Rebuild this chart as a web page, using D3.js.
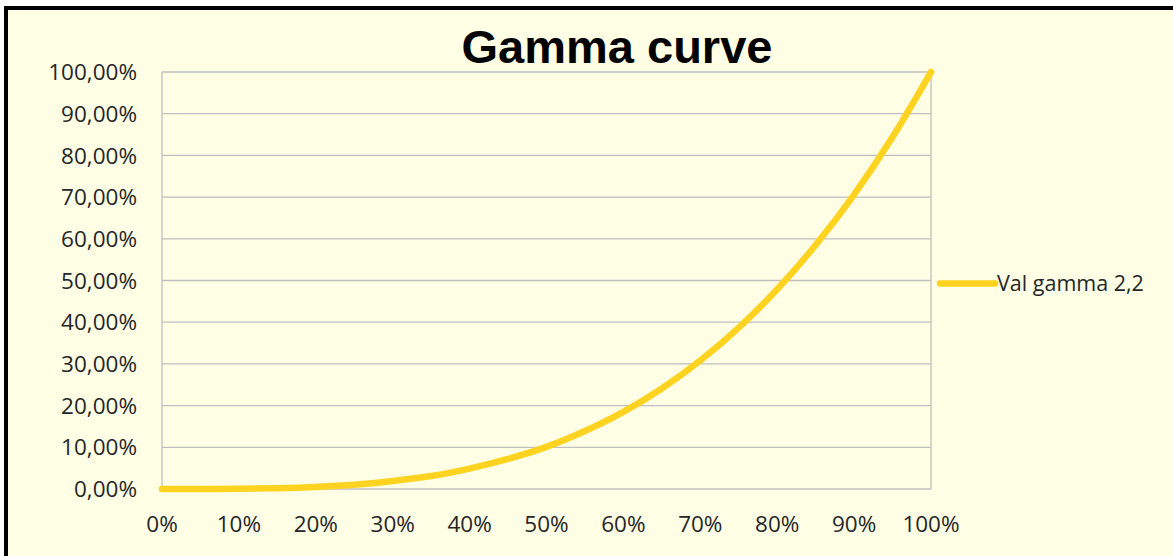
<!DOCTYPE html>
<html>
<head>
<meta charset="utf-8">
<script src="https://cdn.jsdelivr.net/npm/d3@7"></script>
<style>
  body { margin: 0; background: #fff; }
  text { font-family: 'Open Sans', sans-serif; }
</style>
</head>
<body>
<div id="chart"></div>
<script>
const width = 1173
const height = 556

const margin = { top: 72, left: 162, right: 242, bottom: 67 }

// values
const inputLevels = [0, 0.05, 0.1, 0.15, 0.2, 0.25, 0.3, 0.35, 0.4, 0.45, 0.5,
  0.55, 0.6, 0.65, 0.7, 0.75, 0.8, 0.85, 0.9, 0.95, 1]
const gammaValues = [0, 0.0001, 0.0005, 0.002, 0.005, 0.010, 0.019, 0.031, 0.049, 0.072, 0.101,
  0.139, 0.185, 0.241, 0.308, 0.387, 0.479, 0.585, 0.706, 0.844, 1]
const xTicks = [0, 0.1, 0.2, 0.3, 0.4, 0.5, 0.6, 0.7, 0.8, 0.9, 1]
const yTicks = [0, 0.1, 0.2, 0.3, 0.4, 0.5, 0.6, 0.7, 0.8, 0.9, 1]
const seriesName = 'Val gamma 2,2'
const title = 'Gamma curve'

const datapoints = inputLevels.map((d, i) => ({ x: d, y: gammaValues[i] }))

const svg = d3
  .select('#chart')
  .append('svg')
  .attr('width', width)
  .attr('height', height)

// background + border (cut off on right / bottom like the screenshot)
svg
  .append('rect')
  .attr('x', 6)
  .attr('y', 8)
  .attr('width', width)
  .attr('height', height)
  .attr('fill', '#ffffe6')
  .attr('stroke', '#000')
  .attr('stroke-width', 4)

const plotW = width - margin.left - margin.right
const plotH = height - margin.top - margin.bottom

const xScale = d3.scaleLinear().domain([0, 1]).range([0, plotW])
const yScale = d3.scaleLinear().domain([0, 1]).range([plotH, 0])

const holder = svg
  .append('g')
  .attr('transform', `translate(${margin.left},${margin.top})`)

// grid lines
holder
  .selectAll('.grid')
  .data(yTicks)
  .enter()
  .append('line')
  .attr('x1', 0)
  .attr('x2', plotW)
  .attr('y1', d => yScale(d))
  .attr('y2', d => yScale(d))
  .attr('stroke', '#bfbfbf')
  .attr('stroke-width', 1.3)

// plot frame left / right
holder
  .append('line')
  .attr('x1', 0).attr('x2', 0)
  .attr('y1', 0).attr('y2', plotH)
  .attr('stroke', '#bfbfbf')
  .attr('stroke-width', 1.3)

holder
  .append('line')
  .attr('x1', plotW).attr('x2', plotW)
  .attr('y1', 0).attr('y2', plotH)
  .attr('stroke', '#bfbfbf')
  .attr('stroke-width', 1.3)

const yFormat = d => d3.format('.2f')(d * 100).replace('.', ',') + '%'
const xFormat = d => Math.round(d * 100) + '%'

// y labels
holder
  .selectAll('.y-label')
  .data(yTicks)
  .enter()
  .append('text')
  .attr('x', -25)
  .attr('y', d => yScale(d))
  .attr('dy', '0.36em')
  .attr('text-anchor', 'end')
  .attr('font-size', 22.5)
  .attr('fill', '#262626')
  .text(yFormat)

// x labels
holder
  .selectAll('.x-label')
  .data(xTicks)
  .enter()
  .append('text')
  .attr('x', d => xScale(d))
  .attr('y', plotH + 43)
  .attr('text-anchor', 'middle')
  .attr('font-size', 22.5)
  .attr('fill', '#262626')
  .text(xFormat)

const line = d3
  .line()
  .x(d => xScale(d.x))
  .y(d => yScale(d.y))
  .curve(d3.curveMonotoneX)

holder
  .append('path')
  .datum(datapoints)
  .attr('d', line)
  .attr('fill', 'none')
  .attr('stroke', '#ffd320')
  .attr('stroke-width', 6.5)
  .attr('stroke-linecap', 'round')

// legend
const legend = svg
  .append('g')
  .attr('transform', `translate(${margin.left + plotW + 9},${margin.top + yScale(0.5) + 3})`)

legend
  .append('line')
  .attr('x1', 0)
  .attr('x2', 55)
  .attr('stroke', '#ffd320')
  .attr('stroke-width', 6.5)
  .attr('stroke-linecap', 'round')

legend
  .append('text')
  .attr('x', 57)
  .attr('dy', '0.36em')
  .attr('font-size', 21.5)
  .attr('fill', '#262626')
  .text(seriesName)

// title
svg
  .append('text')
  .attr('x', 617)
  .attr('y', 63)
  .attr('text-anchor', 'middle')
  .style('font-family', 'Liberation Sans, Arial, sans-serif')
  .style('font-weight', 'bold')
  .attr('font-size', 47)
  .attr('fill', '#000')
  .text(title)
</script>
</body>
</html>
